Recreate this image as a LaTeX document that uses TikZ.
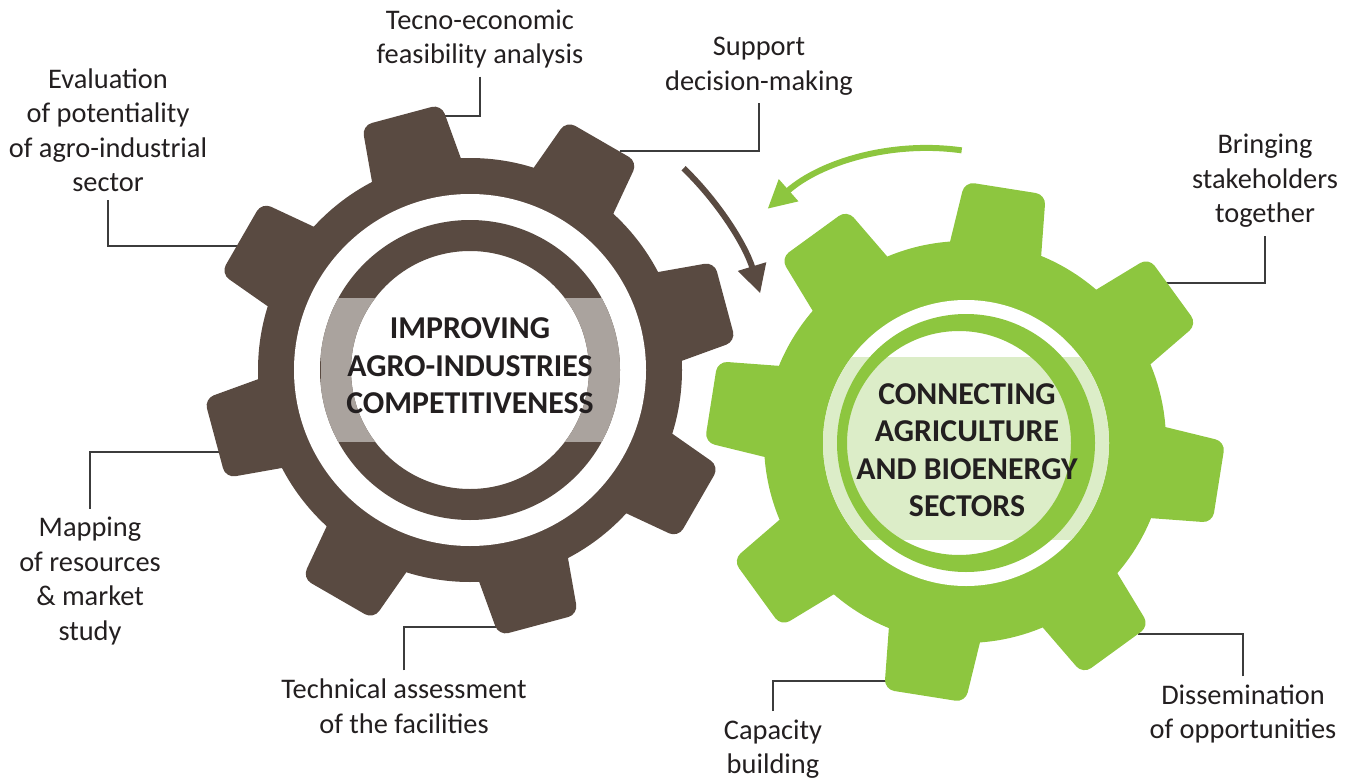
\documentclass[tikz,border=0pt]{standalone}
\usepackage{fontspec}
\setmainfont{Carlito}
\usepackage{xcolor}
\usepackage{tikz}
\usetikzlibrary{arrows.meta}
\definecolor{gearbrown}{RGB}{89,74,65}
\definecolor{bandgray}{RGB}{170,163,158}
\definecolor{geargreen}{RGB}{141,198,63}
\definecolor{bandgreen}{RGB}{220,237,200}
\definecolor{leadgray}{RGB}{60,60,60}
\definecolor{textdark}{RGB}{35,31,32}
\newcommand{\lblfont}{\fontsize{14.2}{17.25}\selectfont}
\newcommand{\hubfont}{\fontsize{15.9}{18.75}\selectfont\bfseries}

\begin{document}
\begin{tikzpicture}[
    x=0.5pt, y=-0.5pt,
    lbl/.style={align=center, font=\lblfont, text=textdark, inner sep=4pt},
    hub/.style={align=center, font=\hubfont, text=textdark},
    leader/.style={draw=leadgray, line width=0.75pt},
    turn/.style={line width=3pt, -{Triangle[length=14pt, width=14pt]}},
]
    \useasboundingbox (0,0) rectangle (1354,781);

    % labels around the gears
    \node[lbl] (tecno) at (480,39) {Tecno-economic\\feasibility analysis};
    \node[lbl] (support) at (759,66) {Support\\decision-making};
    \node[lbl] (evaluation) at (108,130) {Evaluation\\of potentiality\\of agro-industrial\\sector};
    \node[lbl] (mapping) at (90,581) {Mapping\\of resources\\\& market\\study};
    \node[lbl] (technical) at (404,706) {Technical assessment\\of the facilities};
    \node[lbl] (bringing) at (1265,181) {Bringing\\stakeholders\\together};
    \node[lbl] (dissemination) at (1243,714) {Dissemination\\of opportunities};
    \node[lbl] (capacity) at (773,749) {Capacity\\building};

    % where the leaders meet the teeth
    \coordinate (tTecno) at (440,116);
    \coordinate (tSupport) at (620,151);
    \coordinate (tEval) at (240,246);
    \coordinate (tMap) at (224,452);
    \coordinate (tTech) at (503,627);
    \coordinate (tBring) at (1166,283);
    \coordinate (tDiss) at (1138,634);
    \coordinate (tCap) at (887,681);

    \draw[leader] (tecno.south) |- (tTecno);
    \draw[leader] (support.south) |- (tSupport);
    \draw[leader] (evaluation.south) |- (tEval);
    \draw[leader] (mapping.north) |- (tMap);
    \draw[leader] (technical.north) |- (tTech);
    \draw[leader] (bringing.south) |- (tBring);
    \draw[leader] (dissemination.north) |- (tDiss);
    \draw[leader] (capacity.north) |- (tCap);

    % brown gear
    \coordinate (brown) at (470,370);
    \fill[gearbrown] (brown) circle[radius=212];
    \foreach \a in {105,150,...,420}
        \fill[gearbrown, shift={(brown)}, rotate=\a, rounded corners=5pt]
            (195,-47) -- (264,-41) -- (264,41) -- (195,47) -- cycle;
    \fill[white] (brown) circle[radius=176];
    \fill[gearbrown, even odd rule] (brown) circle[radius=150] circle[radius=119];
    \begin{scope}
        \clip (321,298) rectangle (623,441);
        \fill[bandgray, even odd rule] (brown) circle[radius=150] circle[radius=119];
    \end{scope}
    \node[hub] (improving) at (470,366) {IMPROVING\\AGRO-INDUSTRIES\\COMPETITIVENESS};

    % green gear
    \coordinate (green) at (965,442);
    \fill[geargreen] (green) circle[radius=201];
    \foreach \a in {81,126,...,396}
        \fill[geargreen, shift={(green)}, rotate=\a, rounded corners=5pt]
            (185,-47) -- (257,-41) -- (257,41) -- (185,47) -- cycle;
    \fill[white] (966,443) circle[radius=143];
    \begin{scope}
        \clip (966,443) circle[radius=143];
        \fill[bandgreen] (800,357) rectangle (1130,540);
    \end{scope}
    \fill[geargreen, even odd rule] (966,443) circle[radius=129] (959,443) circle[radius=112];
    \node[hub] (connecting) at (967,450) {CONNECTING\\AGRICULTURE\\AND BIOENERGY\\SECTORS};

    % turning arrows
    \coordinate (spinA) at (480,379);
    \coordinate (spinB) at (928,390);
    \draw[turn, gearbrown] (spinA) ++(-46:293) arc[start angle=-46, end angle=-17, radius=293];
    \draw[turn, geargreen] (spinB) ++(-82:242) arc[start angle=-82, end angle=-131.5, radius=242];
\end{tikzpicture}
\end{document}
